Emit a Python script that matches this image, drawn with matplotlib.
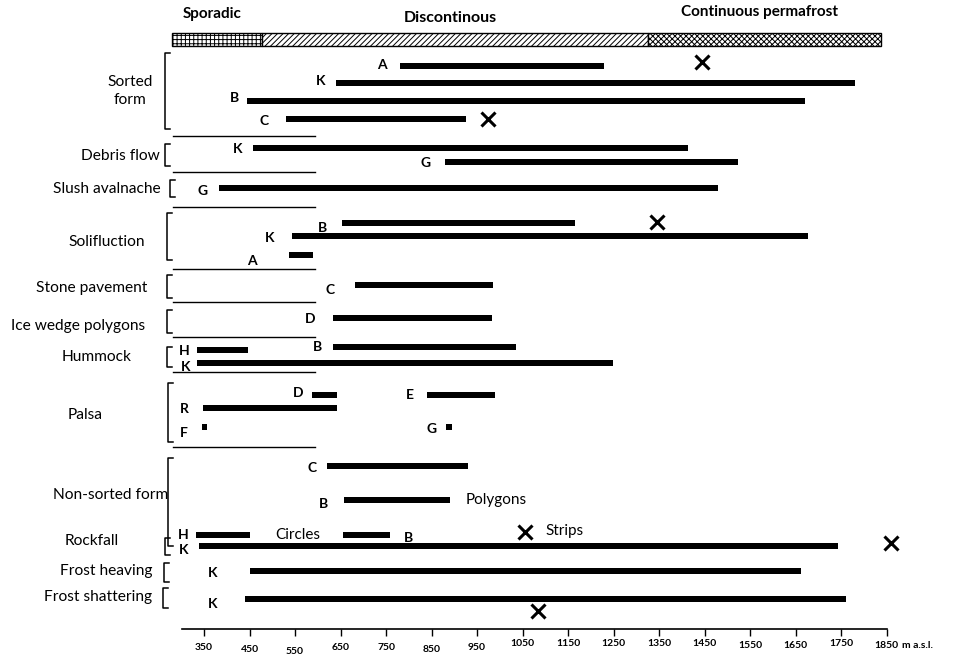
import matplotlib
matplotlib.use("Agg")
import matplotlib.pyplot as plt

plt.rcParams['font.family'] = ['Lato', 'DejaVu Sans']
plt.rcParams['hatch.linewidth'] = 0.7

# ---------------- data ----------------
zone_names = ["Sporadic", "Discontinous", "Continuous permafrost"]
zone_edges = [280, 477, 1326, 1838]          # m a.s.l.
zone_hatch = ["++++", "//////", "xxxxxx"]

group_names = ["Sorted\nform", "Debris flow", "Slush avalnache", "Solifluction",
               "Stone pavement", "Ice wedge polygons", "Hummock", "Palsa",
               "Non-sorted form", "Rockfall", "Frost heaving", "Frost shattering"]

bar_letters = ["A", "K", "B", "C",
               "K", "G",
               "G",
               "B", "K", "A",
               "C",
               "D",
               "H", "B", "K",
               "D", "R", "F", "E", "G",
               "C", "B", "H", "B",
               "K", "K", "K"]
bar_start = [780, 640, 445, 530,
             458, 880,
             383,
             653, 543, 537,
             682,
             633,
             335, 633, 335,
             587, 348, 346, 840, 882,
             620, 658, 332, 655,
             339, 451, 440]
bar_end = [1230, 1780, 1670, 925,
           1413, 1523,
           1479,
           1165, 1677, 590,
           985,
           983,
           447, 1036, 1249,
           642, 642, 357, 989, 895,
           930, 891, 451, 759,
           1743, 1662, 1761]

cross_m = [1445, 975, 1345, 1055, 1860, 1084]   # single observations (x)

tick_values = list(range(350, 1851, 100))
axis_label = "m a.s.l."

# ---------------- layout (pixels) ----------------
W, H = 957, 655
PX0, M0, PXM = 204.0, 350.0, 0.4551   # pixel of 350 m, px per metre


def px2m(px):
    return M0 + (px - PX0) / PXM


bar_y = [66, 83, 101, 119,
         148, 162,
         188,
         223, 236, 255,
         285,
         318,
         350, 347, 363,
         395, 408, 427, 395, 427,
         466, 500, 535, 535,
         546, 571, 599]
lab_dx = [18, 15, 13, 22,
          16, 20,
          16,
          19, 22, 37,
          25,
          23,
          13, 15, 12,
          14, 19, 18, 17, 15,
          15, 21, 13, -18,
          15, 37, 32]
lab_dy = [-2, -3, -4, 1,
          0, 0,
          2,
          4, 1, 5,
          4,
          0,
          0, -1, 3,
          -3, 0, 5, -1, 1,
          1, 3, -1, 2,
          3, 1, 4]
cross_y = [62, 119, 222, 532, 543, 611]

brackets = [(165, 53, 129), (165, 144, 166), (170, 180, 197), (167, 213, 260),
            (167, 275, 298), (167, 310, 333), (167, 347, 367), (168, 383, 442),
            (168, 458, 546), (165, 538, 555), (164, 563, 582), (163, 588, 608)]
separators = [136, 172, 207, 269, 302, 337, 372, 447]
group_pos = [(130, 91, "center"), (160, 156, "right"), (161, 189, "right"),
             (107, 242, "center"), (147, 288, "right"), (145, 326, "right"),
             (97, 357, "center"), (85, 415, "center"), (168, 495, "right"),
             (92, 541, "center"), (152, 571, "right"), (152, 597, "right")]
tick_dy = [2, 4, 5, 2, 2, 3, 1, -2, -2, -3, -3, -3, -1, -1, -3, -1]

fig = plt.figure(figsize=(W / 100, H / 100), dpi=100)
ax = fig.add_axes([0, 0, 1, 1])
ax.set_xlim(px2m(0), px2m(W))
ax.set_ylim(H, 0)
ax.patch.set_alpha(0)

# permafrost band
for i, name in enumerate(zone_names):
    ax.barh(39, zone_edges[i + 1] - zone_edges[i], left=zone_edges[i], height=13,
            facecolor="white", edgecolor="black", hatch=zone_hatch[i], lw=1.0)
zone_ty = [14, 18, 12]
zone_fs = [11, 11.5, 11]
for i, name in enumerate(zone_names):
    mid = (zone_edges[i] + zone_edges[i + 1]) / 2
    ax.text(mid - 5 / PXM, zone_ty[i], name, ha="center", va="center",
            fontsize=zone_fs[i], fontweight="bold")

# bars
for s, e, y in zip(bar_start, bar_end, bar_y):
    ax.barh(y, e - s, left=s, height=6.5, color="black", lw=0)

# bar letters
for i, letter in enumerate(bar_letters):
    if lab_dx[i] >= 0:
        x = bar_start[i] - lab_dx[i] / PXM
    else:
        x = bar_end[i] - lab_dx[i] / PXM
    ax.text(x, bar_y[i] + lab_dy[i], letter, ha="center", va="center_baseline",
            fontsize=10, fontweight="bold")

# crosses
ax.plot(cross_m, cross_y, ls="none", marker="x", ms=10, mew=2.2, color="black")

# form notes (non-sorted)
ax.text(bar_end[21] + 15 / PXM, 500, "Polygons", ha="left", va="center", fontsize=11)
ax.text(px2m(275), 535, "Circles", ha="left", va="center", fontsize=11)
ax.text(cross_m[3] + 21 / PXM, 531, "Strips", ha="left", va="center", fontsize=11)

# x axis
for sp in ["left", "right", "top"]:
    ax.spines[sp].set_visible(False)
ax.spines["bottom"].set_position(("data", 629))
ax.spines["bottom"].set_bounds(px2m(182), px2m(887))
ax.spines["bottom"].set_linewidth(1.2)
ax.set_yticks([])
ax.set_xticks(tick_values)
ax.set_xticklabels([str(v) for v in tick_values], fontsize=7.5, fontweight="bold")
ax.tick_params(axis="x", direction="out", length=5, width=1, pad=4)
for lbl, dy in zip(ax.get_xticklabels(), tick_dy):
    lbl.set_transform(lbl.get_transform() +
                      matplotlib.transforms.ScaledTranslation(0, -dy / 100, fig.dpi_scale_trans))
ax.text(px2m(902), 645, axis_label, ha="left", va="center", fontsize=7.5, fontweight="bold")

# layout overlay: brackets, separators, group names
lay = fig.add_axes([0, 0, 1, 1])
lay.set_xlim(0, W)
lay.set_ylim(H, 0)
lay.axis("off")
for (bx, yt, yb) in brackets:
    lay.plot([bx + 5, bx, bx, bx + 5], [yt, yt, yb, yb], color="black", lw=1.1)
for sy in separators:
    lay.plot([173, 315], [sy, sy], color="black", lw=1.0)
for name, (gx, gy, ha) in zip(group_names, group_pos):
    lay.text(gx, gy, name, ha=ha, va="center", fontsize=11.2, linespacing=1.3)

fig.savefig("out.png", dpi=100)
